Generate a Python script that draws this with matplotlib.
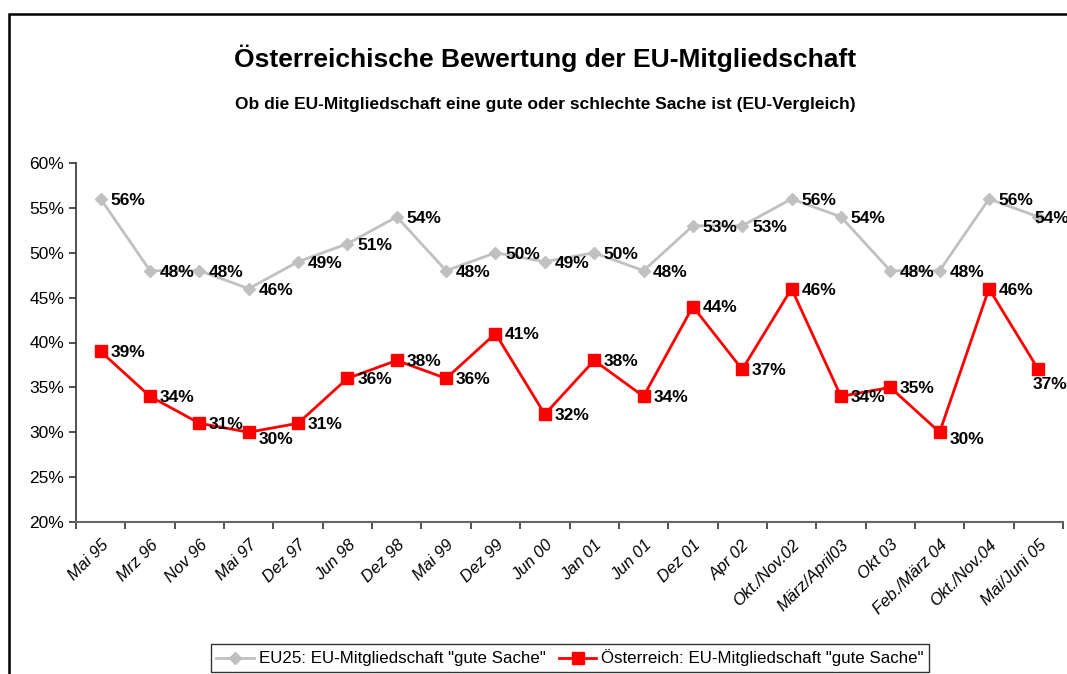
import matplotlib
matplotlib.use("Agg")
import matplotlib.pyplot as plt
from matplotlib.patches import Rectangle
from matplotlib.transforms import ScaledTranslation

# ---------------------------------------------------------------------------
# Data (Eurobarometer, share saying EU membership is a "good thing")
# ---------------------------------------------------------------------------
CATEGORIES = [
    "Mai 95", "Mrz 96", "Nov 96", "Mai 97", "Dez 97", "Jun 98", "Dez 98",
    "Mai 99", "Dez 99", "Jun 00", "Jan 01", "Jun 01", "Dez 01", "Apr 02",
    "Okt./Nov.02", "März/April03", "Okt 03", "Feb./März 04", "Okt./Nov.04",
    "Mai/Juni 05",
]
EU25 = [56, 48, 48, 46, 49, 51, 54, 48, 50, 49, 50, 48, 53, 53, 56, 54, 48, 48, 56, 54]
AUSTRIA = [39, 34, 31, 30, 31, 36, 38, 36, 41, 32, 38, 34, 44, 37, 46, 34, 35, 30, 46, 37]

EU25_LABEL = 'EU25: EU-Mitgliedschaft "gute Sache"'
AUSTRIA_LABEL = 'Österreich: EU-Mitgliedschaft "gute Sache"'

TITLE = "Österreichische Bewertung der EU-Mitgliedschaft"
SUBTITLE = "Ob die EU-Mitgliedschaft eine gute oder schlechte Sache ist (EU-Vergleich)"

GREY = "#C0C0C0"
RED = "#FF0000"

plt.rcParams["font.family"] = ["Liberation Sans", "DejaVu Sans"]

fig = plt.figure(figsize=(10.67, 6.74), dpi=100)
ax = fig.add_axes([76 / 1067, 1 - 522 / 674, (1063 - 76) / 1067, (522 - 163) / 674])

x = list(range(len(CATEGORIES)))
ax.plot(x, EU25, color=GREY, lw=2, marker="D", ms=6, mec=GREY, mfc=GREY, label=EU25_LABEL)
ax.plot(x, AUSTRIA, color=RED, lw=2, marker="s", ms=8, mec=RED, mfc=RED, label=AUSTRIA_LABEL)

# value labels, right of each point
for i, (xi, v) in enumerate(zip(x, EU25)):
    dx = -3 if i == len(x) - 1 else 7
    ax.annotate(f"{v}%", (xi, v), xytext=(dx, -1), textcoords="offset points",
                ha="left", va="center", fontsize=12.5, fontweight="bold")
for i, (xi, v) in enumerate(zip(x, AUSTRIA)):
    dx, dy = 7, -1
    if v == 30:
        dy = -5
    if i == len(x) - 1:
        dx, dy = -4, -11
    ax.annotate(f"{v}%", (xi, v), xytext=(dx, dy), textcoords="offset points",
                ha="left", va="center", fontsize=12.5, fontweight="bold")

ax.set_xlim(-0.5, len(CATEGORIES) - 0.5)
ax.set_ylim(20, 60)
ax.set_yticks(range(20, 61, 5))
ax.set_yticklabels([f"{t}%" for t in range(20, 61, 5)], fontsize=12.5)

ax.set_xticks(x)
ax.set_xticklabels(CATEGORIES, rotation=45, ha="right", rotation_mode="anchor",
                   fontsize=12, fontstyle="italic")
# shift the slanted labels a bit left, like the original
shift = ScaledTranslation(-10 / 100, 0, fig.dpi_scale_trans)
for lab in ax.get_xticklabels():
    lab.set_transform(lab.get_transform() + shift)
ax.set_xticks([i - 0.5 for i in range(len(CATEGORIES) + 1)], minor=True)
ax.tick_params(axis="x", which="major", length=0, pad=11)
ax.tick_params(axis="x", which="minor", length=5, width=1.2, color="#333333", direction="out")
ax.tick_params(axis="y", length=5, width=1.2, color="#333333", direction="out")

for side in ("top", "right"):
    ax.spines[side].set_visible(False)
ax.spines["left"].set_color("#333333")
ax.spines["bottom"].set_color("#666666")
ax.spines["left"].set_linewidth(1.2)
ax.spines["bottom"].set_linewidth(1.5)

fig.text(545 / 1067, 1 - 58 / 674, TITLE, ha="center", va="center",
         fontsize=19, fontweight="bold")
fig.text(545 / 1067, 1 - 105 / 674, SUBTITLE, ha="center", va="center",
         fontsize=12.5, fontweight="bold")

leg = fig.legend(loc="center", bbox_to_anchor=(570 / 1067, 1 - 658 / 674), ncol=2,
                 frameon=True, fancybox=False, fontsize=12.2, handlelength=2.2,
                 handletextpad=0.3, columnspacing=0.8, borderpad=0.3)
leg.get_frame().set_edgecolor("black")
leg.get_frame().set_linewidth(1)

# chart area border (cut off at right and bottom in the original)
fig.patches.append(Rectangle((9 / 1067, -0.1), 1.2, 1 - 14 / 674 + 0.1,
                             transform=fig.transFigure, fill=False,
                             edgecolor="black", lw=1.8, zorder=0))

fig.savefig("out.png", dpi=100)
